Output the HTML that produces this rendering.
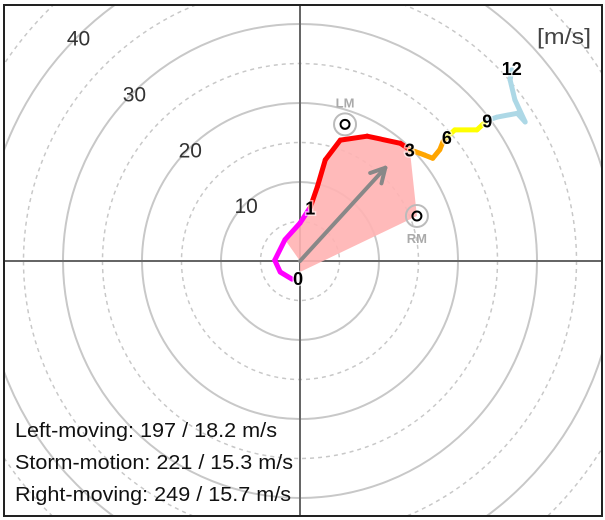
<!DOCTYPE html>
<html><head><meta charset="utf-8"><style>
html,body{margin:0;padding:0;background:#fff;overflow:hidden;width:605px;height:520px}
svg{display:block;font-family:"Liberation Sans",sans-serif}
</style></head><body>
<svg id="c" width="605" height="520" viewBox="0 0 605 520">
<defs><clipPath id="clip"><rect x="4" y="5" width="598" height="511"/></clipPath></defs>
<rect x="0" y="0" width="605" height="520" fill="#fff"/>
<g id="rings" clip-path="url(#clip)"></g>
<g id="marks"></g>
<rect x="4" y="5" width="598" height="511" fill="none" stroke="#222" stroke-width="2"/>
<text x="537" y="44" font-size="22" fill="#444" textLength="54" lengthAdjust="spacingAndGlyphs">[m/s]</text>
<text x="15" y="437" font-size="20" fill="#111" textLength="262" lengthAdjust="spacingAndGlyphs">Left-moving: 197 / 18.2 m/s</text>
<text x="15" y="469" font-size="20" fill="#111" textLength="278" lengthAdjust="spacingAndGlyphs">Storm-motion: 221 / 15.3 m/s</text>
<text x="15" y="501" font-size="20" fill="#111" textLength="276" lengthAdjust="spacingAndGlyphs">Right-moving: 249 / 15.7 m/s</text>
</svg>
<script>
// wind components (m/s)
const hodoU = [-1.0,-2.5,-3.2,-1.9,0,1.3,2.2,3.2,5.1,8.5,12.7,13.9,15.8,16.8,17.7,18.1,18.6,19.6,22.4,23.7,24.9,27.5,28.5,27.2,26.6,26.8];
const hodoV = [-2.3,-1.4,0.1,2.7,4.8,6.8,9.4,12.8,15.3,15.8,14.9,14.1,13.4,13.0,14.1,15.1,15.7,16.6,16.6,17.8,18.2,18.7,17.6,20.4,22.9,24.2];
const hodoColors = ['#ff00ff','#ff00ff','#ff00ff','#ff00ff','#ff00ff','#ff00ff','red','red','red','red','red','red','orange','orange','orange','orange','orange','yellow','yellow','yellow','#add8e6','#add8e6','#add8e6','#add8e6','#add8e6','#add8e6'];
const kmLabels = ['0','1','3','6','9','12'];
const kmIndex = [0,5,11,16,19,25];
const ringValues = [5,10,15,20,25,30,35,40,45,50];
const ringLabels = ['10','20','30','40'];
const lmUV = [5.7,17.3];
const rmUV = [14.8,5.7];
const smUV = [10.8,11.8];
const shadeEnd = 11;

const cx=300, cy=261, k=7.9;
const X=u=>cx+u*k, Y=v=>cy-v*k;
const NS='http://www.w3.org/2000/svg';
function mk(tag,attrs,parent){const e=document.createElementNS(NS,tag);for(const a in attrs)e.setAttribute(a,attrs[a]);parent.appendChild(e);return e;}
const rings=document.getElementById('rings'), marks=document.getElementById('marks');
ringValues.forEach(r=>{
  const c=mk('circle',{cx:cx,cy:cy,r:r*k,fill:'none',stroke:'#c8c8c8','stroke-width':r%10===0?2:1.5,'stroke-dasharray':r%10===0?'none':'4 4'},rings);
  
  
});
ringLabels.forEach(t=>{
  const r=+t*k, a=Math.PI*3/4;
  const e=mk('text',{x:cx+r*Math.cos(a)+2,y:cy-r*Math.sin(a)+8,'font-size':21,fill:'#333','text-anchor':'middle'},rings);
  e.textContent=t;
  
  
});
let ax=mk('line',{x1:4,y1:cy,x2:602,y2:cy,stroke:'#666','stroke-width':2},rings);


let ay=mk('line',{x1:cx,y1:5,x2:cx,y2:516,stroke:'#666','stroke-width':2},rings);


// shaded area
let pts=[X(0)+','+Y(0)];
for(let i=3;i<=shadeEnd;i++)pts.push(X(hodoU[i])+','+Y(hodoV[i]));
pts.push(X(rmUV[0])+','+Y(rmUV[1]));
pts.push(X(0)+','+Y(-1.4));
const sh=mk('polygon',{points:pts.join(' '),fill:'#ffb3b3',opacity:0.9},marks);


// arrow
const ex=X(smUV[0]), ey=Y(smUV[1]);
const arr=mk('g',{stroke:'#888','stroke-width':4,'stroke-linecap':'round',fill:'none'},marks);


mk('line',{x1:cx,y1:cy,x2:ex,y2:ey},arr);
const ang=Math.atan2(ey-cy,ex-cx);
[0.5,-0.5].forEach(d=>mk('line',{x1:ex,y1:ey,x2:ex-16*Math.cos(ang+d),y2:ey-16*Math.sin(ang+d)},arr));
// hodograph
for(let i=0;i<hodoU.length-1;i++){
  const s=mk('line',{x1:X(hodoU[i]),y1:Y(hodoV[i]),x2:X(hodoU[i+1]),y2:Y(hodoV[i+1]),stroke:hodoColors[i+1],'stroke-width':5,'stroke-linecap':'round'},marks);
  
  
}
kmLabels.forEach((t,j)=>{
  const i=kmIndex[j];
  const e=mk('text',{x:X(hodoU[i])+(j===0?6:0),y:Y(hodoV[i])+7+(j===0?-1:0)+(j===5?-2:0),'font-size':18,'font-weight':'bold',fill:'#000','text-anchor':'middle',stroke:'rgba(255,255,255,0.6)','stroke-width':3,'paint-order':'stroke'},marks);
  e.textContent=t;
  
  
});
[[lmUV,'LM',-1],[rmUV,'RM',1]].forEach(([p,t,s])=>{
  const g=mk('g',{},marks);
  
  
  mk('circle',{cx:X(p[0]),cy:Y(p[1]),r:11,fill:'none',stroke:'#bbb','stroke-width':2},g);
  mk('circle',{cx:X(p[0]),cy:Y(p[1]),r:4.5,fill:'none',stroke:'#000','stroke-width':2},g);
  const e=mk('text',{x:X(p[0]),y:Y(p[1])+(s<0?-17:27),'font-size':13,'font-weight':'bold',fill:'#aaa','text-anchor':'middle'},g);
  e.textContent=t;
});
</script>
</body></html>
